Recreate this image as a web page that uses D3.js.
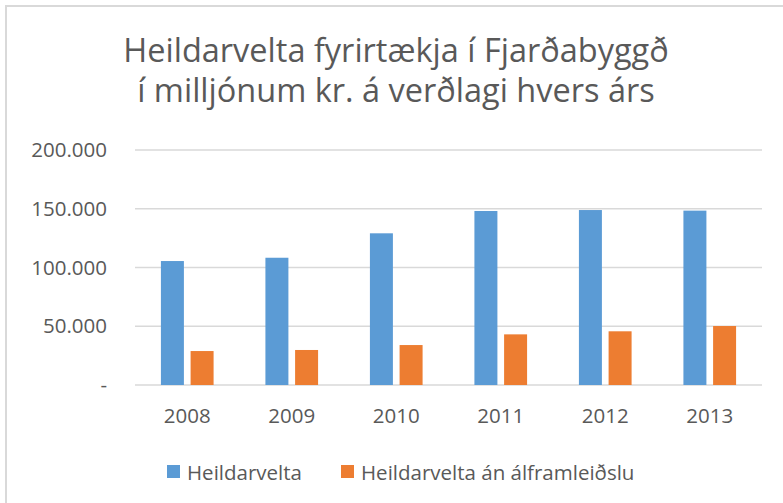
<!DOCTYPE html>
<html>
<head>
<meta charset="utf-8">
<script src="https://cdn.jsdelivr.net/npm/d3@7"></script>
<style>
  body { margin: 0; background: #fff; }
  text { font-family: "Open Sans", sans-serif; fill: #595959; }
</style>
</head>
<body>
<div id="chart"></div>
<script>
// values in millions of ISK
var years = ["2008", "2009", "2010", "2011", "2012", "2013"];
var heildarvelta = [105500, 108300, 129100, 148100, 148900, 148400];
var anAlframleidslu = [28900, 29800, 34000, 43100, 45700, 50200];
var seriesNames = ["Heildarvelta", "Heildarvelta án álframleiðslu"];
var seriesColors = ["#5B9BD5", "#ED7D31"];
var yTicks = [0, 50000, 100000, 150000, 200000];
var titleLines = ["Heildarvelta fyrirtækja í Fjarðabyggð", "í milljónum kr. á verðlagi hvers árs"];

var W = 783, H = 503;
var plotL = 135, plotR = 762, plotT = 150, plotB = 385;

var svg = d3.select("#chart").append("svg").attr("width", W).attr("height", H);

// chart frame
svg.append("rect").attr("x", 6).attr("y", 6).attr("width", W + 10).attr("height", H + 10)
  .attr("fill", "#fff").attr("stroke", "#d9d9d9").attr("stroke-width", 2);

// title
svg.selectAll("text.title").data(titleLines).enter().append("text")
  .attr("class", "title")
  .attr("x", 396).attr("y", function(d, i) { return 62 + i * 40; })
  .attr("text-anchor", "middle")
  .style("font-size", "32.5px")
  .text(function(d) { return d; });

var loc = d3.formatLocale({ decimal: ",", thousands: ".", grouping: [3], currency: ["", ""] });
var fmt = loc.format(",.0f");

var y = d3.scaleLinear().domain([0, 200000]).range([plotB, plotT]);
var x = d3.scaleBand().domain(years).range([plotL, plotR]).paddingInner(0.496).paddingOuter(0.248);
var x1 = d3.scaleBand().domain([0, 1]).range([0, x.bandwidth()]).paddingInner(0.2256);

// gridlines
svg.append("g").selectAll("line").data(yTicks).enter().append("line")
  .attr("x1", plotL).attr("x2", plotR)
  .attr("y1", function(d) { return y(d); }).attr("y2", function(d) { return y(d); })
  .attr("stroke", "#d9d9d9").attr("stroke-width", 1.5);

// y labels
svg.append("g").selectAll("text").data(yTicks).enter().append("text")
  .attr("x", 107).attr("y", function(d) { return y(d) + 7; })
  .attr("text-anchor", "end")
  .style("font-size", "20.5px")
  .text(function(d) { return d === 0 ? "-" : fmt(d); });

// bars
var rows = years.map(function(yr, i) { return { year: yr, vals: [heildarvelta[i], anAlframleidslu[i]] }; });
var groups = svg.append("g").selectAll("g").data(rows).enter().append("g")
  .attr("transform", function(d) { return "translate(" + x(d.year) + ",0)"; });
groups.selectAll("rect").data(function(d) { return d.vals; }).enter().append("rect")
  .attr("x", function(d, i) { return x1(i); })
  .attr("width", x1.bandwidth())
  .attr("y", function(d) { return y(d); })
  .attr("height", function(d) { return y(0) - y(d); })
  .attr("fill", function(d, i) { return seriesColors[i]; });

// x labels
svg.append("g").selectAll("text").data(years).enter().append("text")
  .attr("x", function(d) { return x(d) + x.bandwidth() / 2; })
  .attr("y", 423)
  .attr("text-anchor", "middle")
  .style("font-size", "20.5px")
  .text(function(d) { return d; });

// legend
var legX = [167, 341];
var leg = svg.append("g").selectAll("g").data(seriesNames).enter().append("g")
  .attr("transform", function(d, i) { return "translate(" + legX[i] + ",465)"; });
leg.append("rect").attr("width", 13).attr("height", 13)
  .attr("fill", function(d, i) { return seriesColors[i]; });
leg.append("text").attr("x", 20).attr("y", 15)
  .style("font-size", "20.5px")
  .text(function(d) { return d; });
</script>
</body>
</html>
